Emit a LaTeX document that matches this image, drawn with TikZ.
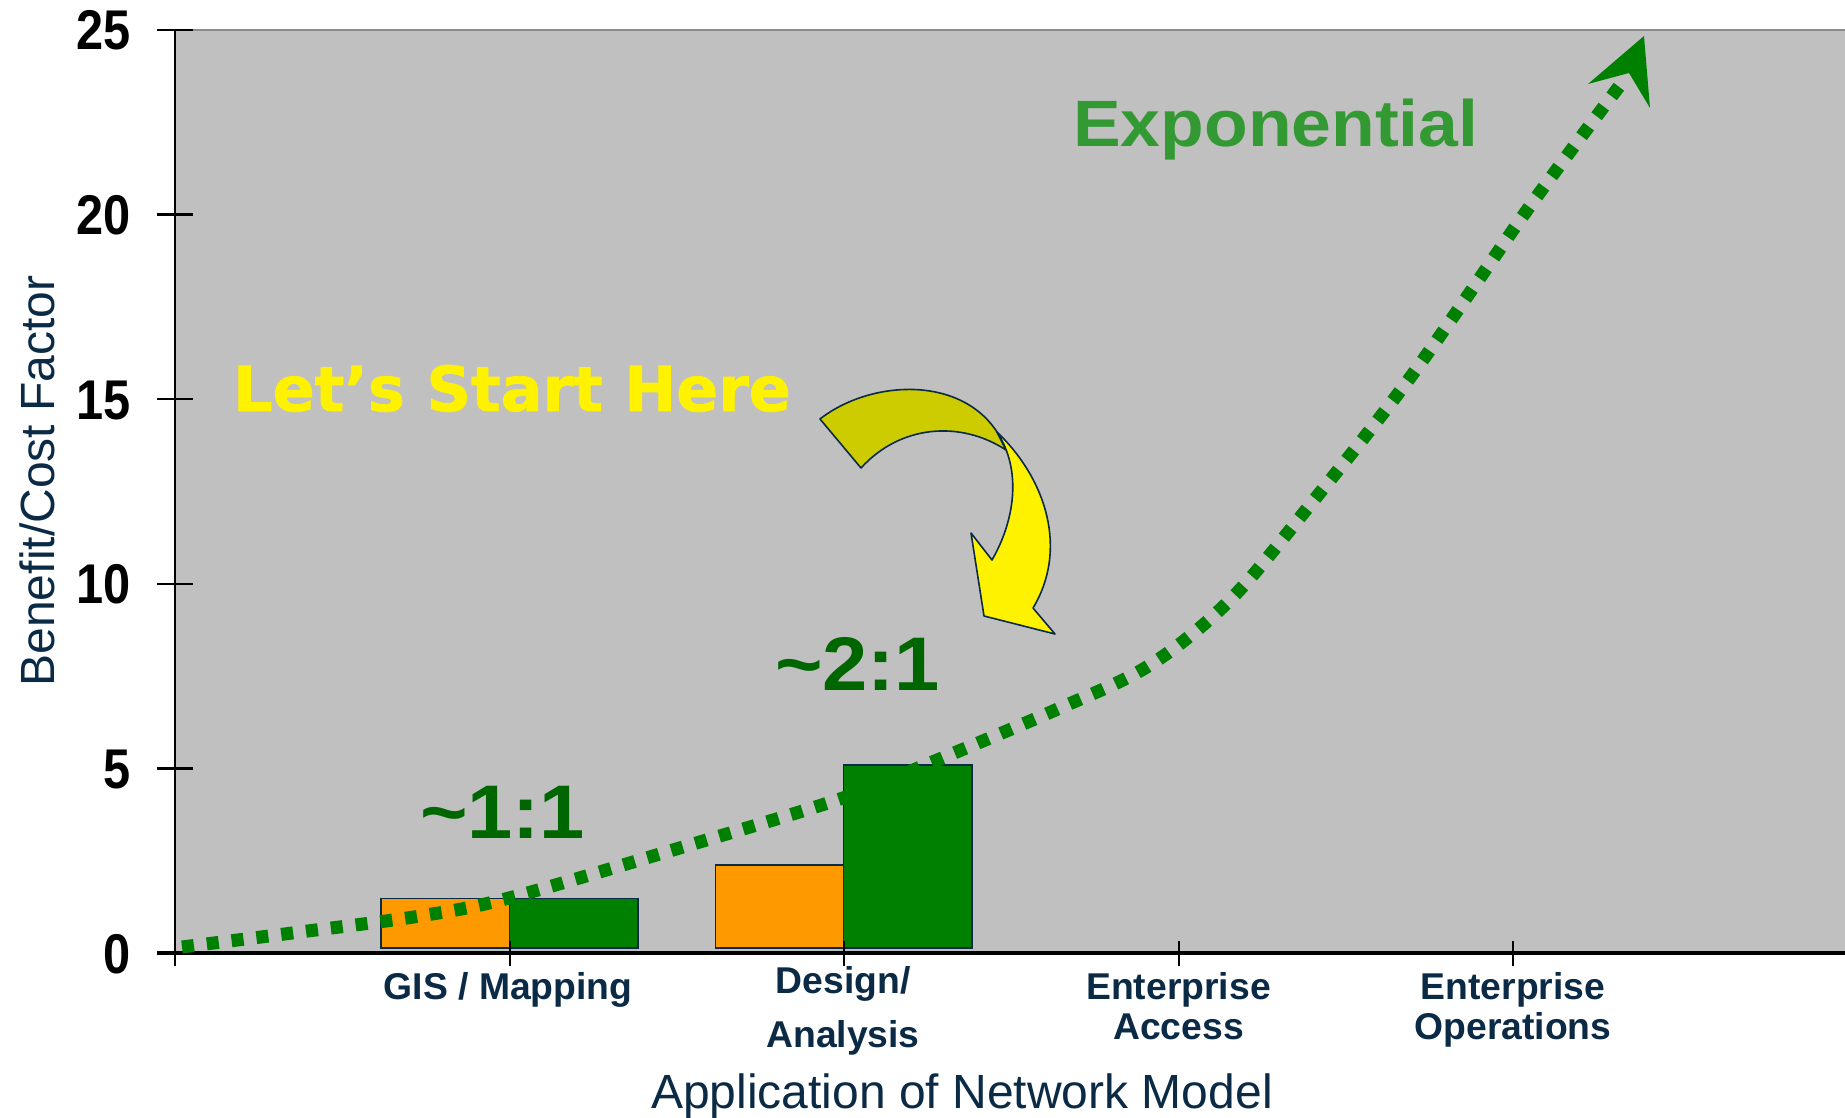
\documentclass[tikz,border=0pt]{standalone}
\usepackage{fontspec}
\setmainfont{Liberation Sans}
\newfontfamily\heavy{DejaVu Sans}[BoldFeatures={FakeBold=1.3}]
\newcommand\fsz[1]{\fontsize{#1}{#1}\selectfont}
\definecolor{plotgray}{HTML}{C0C0C0}
\definecolor{navy}{HTML}{0B2A45}
\definecolor{barorange}{HTML}{FF9900}
\definecolor{bargreen}{HTML}{008000}
\definecolor{ratiogreen}{HTML}{006600}
\definecolor{expgreen}{HTML}{339933}
\definecolor{darkyellow}{HTML}{CCCC00}
\definecolor{bordergray}{HTML}{8C8C8C}
\begin{document}
\begin{tikzpicture}[x=1pt,y=-1pt,
  axisline/.style={black,line width=2.5pt},
  ticklab/.style={anchor=base east,inner sep=0pt,font=\bfseries\fsz{56}},
  catlab/.style={anchor=base,inner sep=0pt,text=navy,font=\bfseries\fsz{37.3}},
  barbox/.style={draw=navy,line width=1.5pt},
  ratio/.style={anchor=base west,inner sep=0pt,text=ratiogreen,font=\bfseries\fsz{76}},
  curve/.style={bargreen,line width=13pt,dash pattern=on 12pt off 13pt},
  blockarrow/.style={draw=navy,line width=1.6pt,line join=round}]
\useasboundingbox (0,0) rectangle (1845,1118);
% plot area
\fill[plotgray] (175,30) rectangle (1845,953);
\draw[bordergray,line width=2.5pt] (193,30) -- (1845,30);
% bars
\filldraw[barbox,fill=barorange] (381,898.7) rectangle (509.5,948);
\filldraw[barbox,fill=bargreen] (509.5,898.7) rectangle (638,948);
\filldraw[barbox,fill=barorange] (715.7,865) rectangle (843.7,948);
\filldraw[barbox,fill=bargreen] (843.7,765) rectangle (972,948);
% axes
\draw[axisline] (175,30) -- (175,966);
\draw[black,line width=3.5pt] (157,953) -- (1845,953);
\foreach \v in {5,10,...,25}
  \draw[axisline] (157,{953-36.92*\v}) -- (193,{953-36.92*\v});
\foreach \xx in {509.5,844,1178.5,1513}
  \draw[black,line width=2pt] (\xx,941) -- (\xx,966);
% tick labels
\foreach \v in {0,5,...,25}
  \node[ticklab] (yl\v) at (131,{953-36.92*\v+20}) {\scalebox{0.87}[1]{\v}};
% axis titles
\node[rotate=90,anchor=base,inner sep=0pt,text=navy,font=\fsz{48}] (ytitle) at (54,481) {Benefit/Cost Factor};
\node[anchor=base,inner sep=0pt,text=navy,font=\fsz{48}] (xtitle) at (962,1108) {Application of Network Model};
% category labels
\node[catlab] (gis) at (508,999) {GIS / Mapping};
\node[catlab] (des1) at (843,993) {Design/};
\node[catlab] (des2) at (843,1047) {Analysis};
\node[catlab] (ea1) at (1178.5,999) {Enterprise};
\node[catlab] (ea2) at (1178.5,1039) {Access};
\node[catlab] (eo1) at (1513,999) {Enterprise};
\node[catlab] (eo2) at (1513,1039) {Operations};
% dotted exponential curve
\draw[curve] plot[smooth,tension=0.55] coordinates {(182,947) (300,932) (420,916) (509,898) (683,847) (843,798) (930,763) (1060,708) (1150,665) (1230,600) (1310,505) (1412,375) (1530,206) (1624,80)};
\coordinate (tip) at (1644,36);
\fill[bargreen] (tip) -- (1588,84) -- (1629,73) -- (1650,108) -- cycle;
% ratio texts
\node[ratio] (r11) at (420,838) {\scalebox{1.07}[1]{\textasciitilde 1:1}};
\node[ratio] (r21) at (775,690) {\scalebox{1.07}[1]{\textasciitilde 2:1}};
% Exponential
\node[anchor=base west,inner sep=0pt,text=expgreen,font=\bfseries\fsz{65.6}] (expo) at (1073,147) {\scalebox{1.09}[1]{Exponential}};
% Let's start here
\node[anchor=base west,inner sep=0pt,text=yellow,font=\heavy\bfseries\fsz{62}] (start) at (233,411) {Let’s Start Here};
% curved block arrow
\filldraw[blockarrow,fill=darkyellow] (820,419) .. controls (870,380) and (960,375) .. (997,432)
  -- (1006,450) .. controls (960,420) and (900,425) .. (861,468) -- cycle;
\filldraw[blockarrow,fill=yellow] (997,432) .. controls (1047,480) and (1068,550) .. (1033,608)
  -- (1055,634) -- (984,616) -- (971,533) -- (992,560)
  .. controls (1015,520) and (1022,470) .. (997,432) -- cycle;
\end{tikzpicture}
\end{document}
